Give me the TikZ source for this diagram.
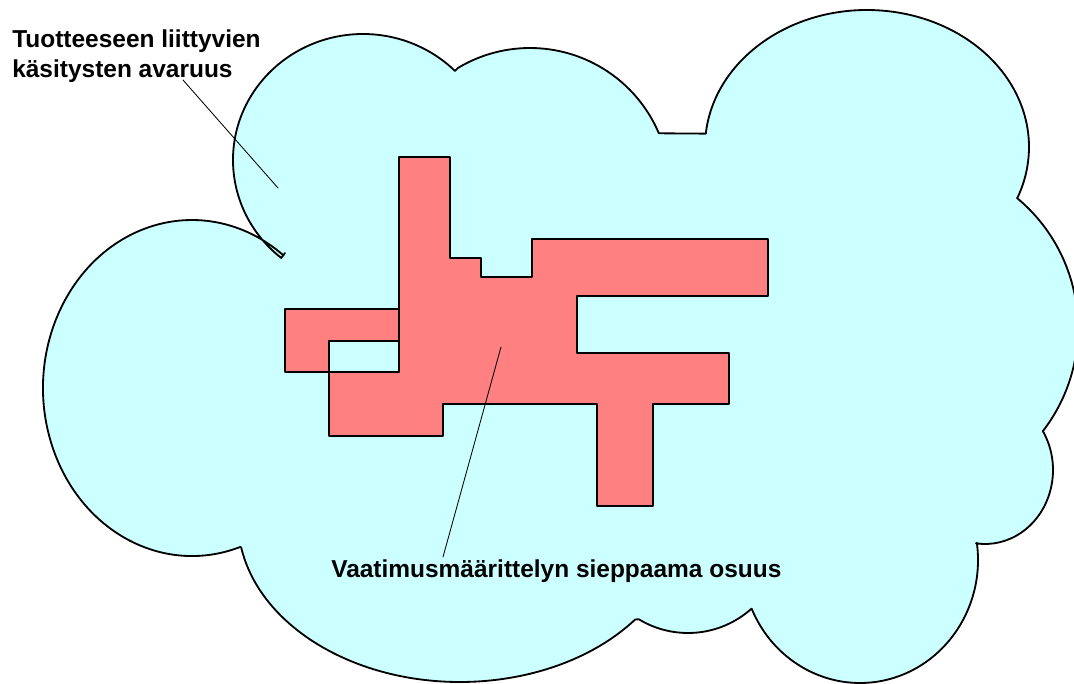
\documentclass[tikz,border=0pt]{standalone}
\usepackage{fontspec}
\setmainfont{Liberation Sans}
\definecolor{pilvi}{HTML}{CCFFFF}
\definecolor{osuus}{HTML}{FF8080}
\begin{document}
\begin{tikzpicture}[x=0.025cm,y=0.025cm,yscale=-1,line join=round,line cap=round,
    font=\fontsize{17.4}{21.3}\selectfont\bfseries,
    reuna/.style={draw=black,line width=1.3pt},
    viiva/.style={black,line width=0.6pt}]
    \useasboundingbox (0,0) rectangle (1074,684);
    % pilvi: kaaret myotapaivaan lovesta alkaen
    \filldraw[reuna,fill=pilvi] (285,253)
        \foreach \cx/\cy/\rx/\ry/\a/\b in {363/160/130/126/129/315,530/188/140/140/239/337,867/147/162/137/185.6/381.9,909/328/169/169/-50.3/37.5,985/470/68/74/-31.7/97.6,860/560/118/123/-8/156.7,688/538/95/95/48.3/121.2,460/520/222/162/37.9/170,192/388/149/168/71/307.8}
        {--([shift={(\cx,\cy)}]\a:{\rx} and {\ry}) arc[start angle=\a,end angle=\b,x radius=\rx,y radius=\ry]}--cycle;
    % vaatimusmaarittelyn alue
    \filldraw[reuna,fill=osuus,even odd rule,line width=1pt] (399,157)--(450,157)--(450,258)--(481,258)--(481,277)--(532,277)--(532,239)--(768,239)--(768,296)--(577,296)--(577,353)--(729,353)--(729,404)--(653,404)--(653,506)--(597,506)--(597,404)--(443,404)--(443,436)--(329,436)--(329,341)--(399,341)--cycle (285,309) rectangle (399,372);
    \node[anchor=base west,inner sep=0,align=left] (avaruus) at (12,77) {Tuotteeseen liittyvien\\käsitysten avaruus};
    \node[anchor=base west,inner sep=0] (sieppaus) at (331,577) {Vaatimusmäärittelyn sieppaama osuus};
    \coordinate (a1) at (183,80); \coordinate (a2) at (278,188);
    \coordinate (s1) at (443,557); \coordinate (s2) at (501,347);
    \draw[viiva] (a1)--(a2) (s1)--(s2);
\end{tikzpicture}
\end{document}
